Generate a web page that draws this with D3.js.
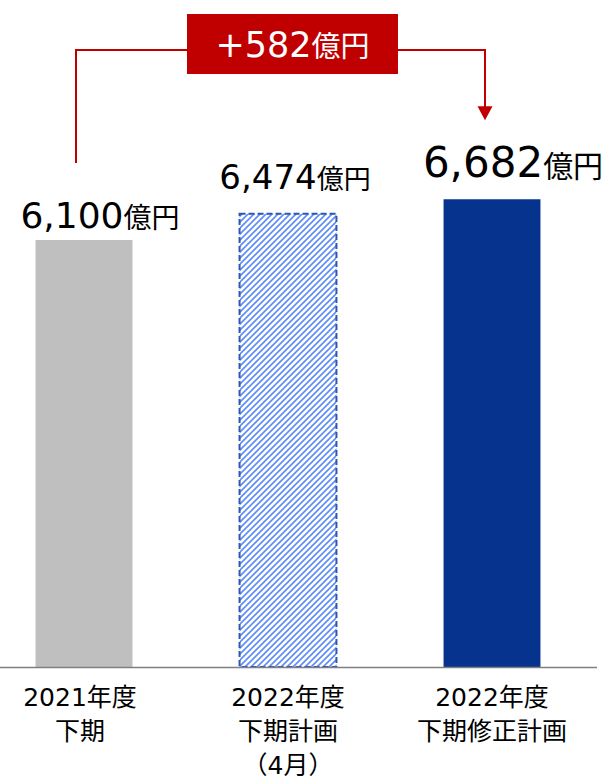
<!DOCTYPE html>
<html lang="ja">
<head>
<meta charset="utf-8">
<script src="https://cdn.jsdelivr.net/npm/d3@7"></script>
<style>
  html, body { margin: 0; padding: 0; background: #fff; }
  svg { display: block; font-family: "DejaVu Sans", "Noto Sans CJK JP", sans-serif; }
</style>
</head>
<body>
<svg id="chart" width="608" height="779"></svg>
<script>
// 売上高(億円)
const categories = ["2021年度下期", "2022年度下期計画（4月）", "2022年度下期修正計画"];
const categoryLines = [
  ["2021年度", "下期"],
  ["2022年度", "下期計画", "（4月）"],
  ["2022年度", "下期修正計画"]
];
const values = [6100, 6474, 6682];
const unit = "億円";
const diffLabel = "+582";

const svg = d3.select("#chart");
const baseY = 667;

const x = d3.scaleBand()
  .domain(categories)
  .range([-18, 594])
  .paddingInner(0.525)
  .paddingOuter(0.2625);

const y = d3.scaleLinear()
  .domain([0, 7000])
  .range([baseY, baseY - 490]);

const cx = c => x(c) + x.bandwidth() / 2;

// diagonal hatch for the April plan bar
const defs = svg.append("defs");
const pat = defs.append("pattern")
  .attr("id", "hatch")
  .attr("patternUnits", "userSpaceOnUse")
  .attr("width", 6).attr("height", 6);
pat.append("path")
  .attr("d", "M0,6 L6,0 M-1,1 L1,-1 M5,7 L7,5")
  .attr("stroke", "#628df5")
  .attr("stroke-width", 1.7)
  .attr("fill", "none");

const barStyles = [
  { fill: "#bfbfbf", stroke: "none", dash: null },
  { fill: "url(#hatch)", stroke: "#2d56b4", dash: "6,3" },
  { fill: "#06338e", stroke: "none", dash: null }
];

svg.append("g")
  .selectAll("rect")
  .data(categories)
  .join("rect")
  .attr("x", d => x(d))
  .attr("y", (d, i) => y(values[i]))
  .attr("width", x.bandwidth())
  .attr("height", (d, i) => baseY - y(values[i]))
  .attr("fill", (d, i) => barStyles[i].fill)
  .attr("stroke", (d, i) => barStyles[i].stroke)
  .attr("stroke-width", 2)
  .attr("stroke-dasharray", (d, i) => barStyles[i].dash);

// baseline
svg.append("line")
  .attr("x1", 0).attr("x2", 597)
  .attr("y1", baseY + 0.5).attr("y2", baseY + 0.5)
  .attr("stroke", "#808080")
  .attr("stroke-width", 1.6);

// value labels
const labelStyle = [
  { dx: 16, gap: 12, num: 36, unit: 28 },
  { dx: 7, gap: 25, num: 34, unit: 27 },
  { dx: 21, gap: 22, num: 42, unit: 30 }
];
const fmt = d3.format(",");
const vl = svg.append("g")
  .selectAll("text")
  .data(categories)
  .join("text")
  .attr("x", (d, i) => cx(d) + labelStyle[i].dx)
  .attr("y", (d, i) => y(values[i]) - labelStyle[i].gap)
  .attr("text-anchor", "middle")
  .attr("fill", "#000");
vl.append("tspan")
  .attr("font-size", (d, i) => labelStyle[i].num)
  .text((d, i) => fmt(values[i]));
vl.append("tspan")
  .attr("font-size", (d, i) => labelStyle[i].unit)
  .text(unit);

// category labels
const catDx = [-4, 0, 0];
svg.append("g")
  .selectAll("text")
  .data(categories)
  .join("text")
  .attr("text-anchor", "middle")
  .attr("font-size", 25)
  .attr("fill", "#000")
  .each(function (d, i) {
    const t = d3.select(this);
    categoryLines[i].forEach((line, j) => {
      t.append("tspan")
        .attr("x", cx(d) + catDx[i])
        .attr("y", 706 + j * 34)
        .text(line);
    });
  });

// difference annotation: bracket from the first bar to the revised plan
const red = "#c00000";
const lineY = 50;
const leftX = cx(categories[0]) - 8;
const rightX = cx(categories[2]) - 7;
const leftBottom = y(values[0]) - 77;
const arrowTip = y(values[2]) - 79;

svg.append("path")
  .attr("d", `M${leftX},${leftBottom} V${lineY} H${rightX} V${arrowTip - 12}`)
  .attr("fill", "none")
  .attr("stroke", red)
  .attr("stroke-width", 2);
svg.append("path")
  .attr("d", `M${rightX - 7.5},${arrowTip - 14} L${rightX + 7.5},${arrowTip - 14} L${rightX},${arrowTip} Z`)
  .attr("fill", red);

const boxCx = cx(categories[1]) + 4.5;
svg.append("rect")
  .attr("x", boxCx - 105.5).attr("y", 14)
  .attr("width", 211).attr("height", 60)
  .attr("fill", red);
const dt = svg.append("text")
  .attr("x", boxCx)
  .attr("y", 57)
  .attr("text-anchor", "middle")
  .attr("fill", "#fff");
dt.append("tspan").attr("font-size", 35).text(diffLabel);
dt.append("tspan").attr("font-size", 29).text(unit);
</script>
</body>
</html>
